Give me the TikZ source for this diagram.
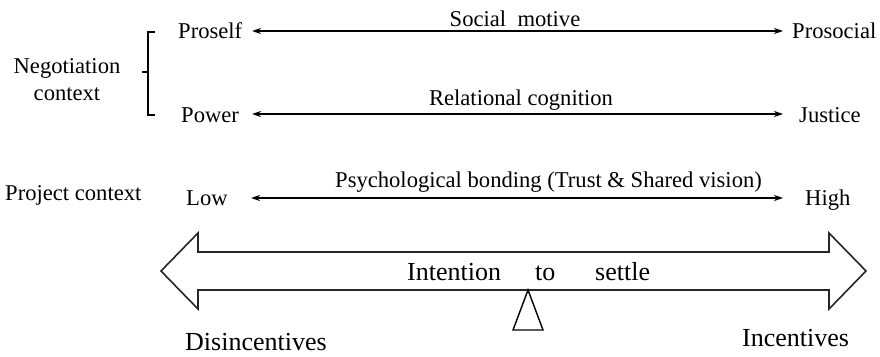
\documentclass[tikz,border=0pt]{standalone}
\usepackage{fontspec}
\setmainfont{Liberation Serif}
\usetikzlibrary{arrows.meta}
\begin{document}
\begin{tikzpicture}[x=1pt,y=-1pt,
  lbl/.style={inner sep=0pt,anchor=base west,font=\fontsize{22.6}{26}\selectfont},
  biglbl/.style={inner sep=0pt,anchor=base west,font=\fontsize{26}{30}\selectfont},
  spanarrow/.style={line width=1.4pt,{Stealth[length=9pt,width=6pt]}-{Stealth[length=9pt,width=6pt]}},
  outline/.style={line width=1.6pt,draw=black!85}]
\useasboundingbox (0,0) rectangle (880,356);

% side labels and bracket
\node[lbl,anchor=base] (neg) at (67,73) {Negotiation};
\node[lbl,anchor=base] (ctx) at (67,100) {context};
\draw[line width=1.2pt] (155,32) -- (148,32) -- (148,115) -- (155,115)
  (148,72) -- (142,72);
\node[lbl] (proj) at (5,200) {Project context};

% negotiation scales
\node[lbl] (proself) at (178,38) {Proself};
\node[lbl] (prosocial) at (792,38) {Prosocial};
\coordinate (sm-l) at (252,31);
\coordinate (sm-r) at (783,31);
\draw[spanarrow] (sm-l) -- (sm-r);
\node[lbl,anchor=base] (sm) at (515,26) {Social\ \ motive};

\node[lbl] (power) at (181,122) {Power};
\node[lbl] (justice) at (799,122) {Justice};
\coordinate (rc-l) at (252,114);
\coordinate (rc-r) at (783,114);
\draw[spanarrow] (rc-l) -- (rc-r);
\node[lbl,anchor=base] (rc) at (521,105) {Relational cognition};

% project scale
\node[lbl] (low) at (186,205) {Low};
\node[lbl] (high) at (805,205) {High};
\coordinate (pb-l) at (251,198);
\coordinate (pb-r) at (783,198);
\draw[spanarrow] (pb-l) -- (pb-r);
\node[lbl] (pb) at (335,187) {Psychological bonding (Trust \& Shared vision)};

% balance beam: double-headed block arrow
\draw[outline,line join=miter]
  (161,271) -- (198,233) -- (198,252) -- (829,252) -- (829,233)
  -- (866,271) -- (829,309) -- (829,290) -- (198,290) -- (198,309) -- cycle;
\node[biglbl] (int) at (407,280) {Intention};
\node[biglbl] (to) at (535,280) {to};
\node[biglbl] (settle) at (595,280) {settle};

% fulcrum
\draw[line width=1.4pt,line join=miter] (528,290) -- (543,330) -- (513,330) -- cycle;

\node[biglbl] (dis) at (185,350) {Disincentives};
\node[biglbl] (inc) at (742,346) {Incentives};
\end{tikzpicture}
\end{document}
